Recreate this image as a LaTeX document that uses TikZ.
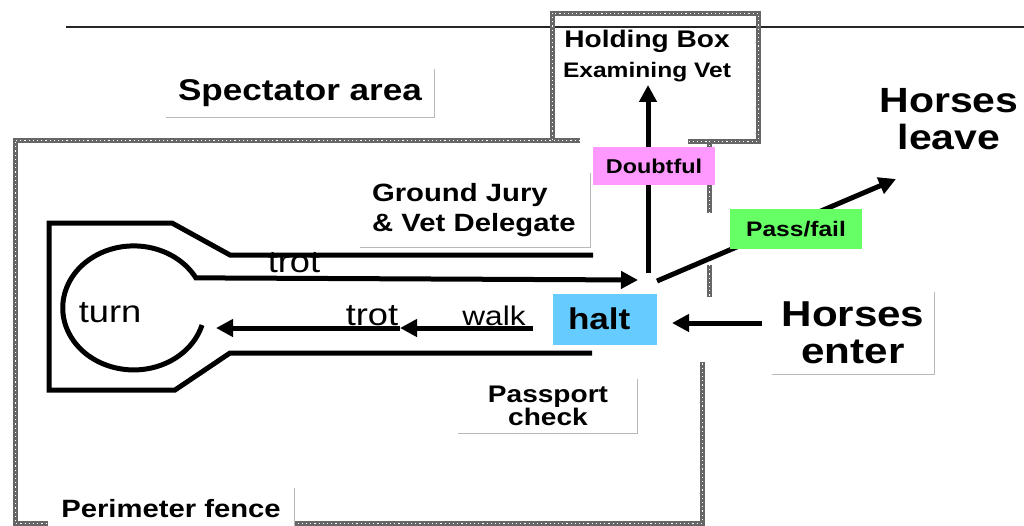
\documentclass[tikz,border=0pt]{standalone}
\usepackage{fontspec}
\setmainfont{Liberation Sans}[FakeStretch=1.17]
\usetikzlibrary{arrows.meta,positioning}
\definecolor{haltblue}{RGB}{102,204,255}
\definecolor{doubtpink}{RGB}{255,153,255}
\definecolor{passgreen}{RGB}{102,255,102}
\newcommand{\bsz}[2]{\fontsize{#1}{#2}\selectfont\bfseries}
\newcommand{\rsz}[1]{\fontsize{#1}{#1}\selectfont}

\begin{document}
\begin{tikzpicture}[x=1pt,y=-1pt,
  track/.style={line width=5pt},
  arr/.style={line width=5pt,-{Triangle[length=17pt,width=17pt]}},
  fence/.style={draw=gray!80!black,line width=5pt,
    postaction={draw=white,line width=1pt,dash pattern=on 1.2pt off 3pt}},
  rim/.style={draw=gray!55,line width=1.2pt},
  tbox/.style={inner sep=0pt,align=center},
  tag/.style={inner sep=0pt,minimum height=38pt}]
  \useasboundingbox (0,0) rectangle (1024,525);

  \draw[gray!30!black,line width=1.6pt] (66,27) -- (1024,27);

  \draw[fence] (580,140) -- (15,140) -- (15,523) -- (702,523) -- (702,362);
  \draw[fence] (552,140) -- (552,13) -- (758,13) -- (758,141) -- (688,141);
  \draw[fence] (709,141) -- (709,213);
  \draw[fence] (709,265) -- (709,297);

  \draw[track] (593,255) -- (230,255) -- (172,223) -- (49,223) -- (49,390)
    -- (175,390) -- (230,353) -- (592,353);

  \node (hold) [anchor=base,font=\bsz{24}{24}] at (647,47) {Holding Box};
  \node (vet) [anchor=base,font=\bsz{21}{21}] at (647,77) {Examining Vet};

  \coordinate (loopin) at (202,325);
  \coordinate (jct) at (638,280);
  \coordinate (fork) at (648,273);
  \coordinate (passin) at (657,281);
  \coordinate (leavept) at (896,179);
  \coordinate (walkin) at (533,328);
  \coordinate (trotpt) at (400,328);
  \coordinate (turnpt) at (216,328);
  \coordinate (enterpt) at (762,323);
  \coordinate (haltpt) at (672,323);

  \draw[arr] (loopin) arc[start angle=16,end angle=331,x radius=71,y radius=62] -- (jct);
  \draw[arr] (walkin) -- (trotpt);
  \draw[arr] (trotpt) -- (turnpt);
  \draw[arr] (fork) -- (fork |- vet.south);
  \draw[arr] (passin) -- (leavept);
  \draw[arr] (enterpt) -- (haltpt);

  \node (spec) [tbox,font=\bsz{30}{30},minimum width=268pt,minimum height=48pt] at (300,93) {Spectator area};
  \draw[rim] (spec.south west) -- (spec.south east) -- (spec.north east);

  \node (jury) [tbox,font=\bsz{25}{30},align=left,text width=206pt,inner xsep=12pt,minimum height=74pt] at (475,210) {Ground Jury\\\& Vet Delegate};
  \draw[rim] (jury.south west) -- (jury.south east) -- (jury.north east);

  \node (pass) [tbox,font=\bsz{24}{22},minimum width=179pt,minimum height=54pt] at (548,406) {Passport\\check};
  \draw[rim] (pass.south west) -- (pass.south east) -- (pass.north east);

  \node (enter) [tbox,font=\bsz{36}{37},minimum width=162pt,minimum height=82pt] at (853,333) {Horses\\enter};
  \draw[rim] (enter.south west) -- (enter.south east) -- (enter.north east);

  \node (leave) [tbox,font=\bsz{35}{37}] at (949,119) {Horses\\leave};

  \node (fence) [tbox,font=\bsz{25}{25},fill=white,minimum width=247pt,minimum height=42pt] at (171,509) {Perimeter fence};
  \draw[rim] (fence.north east) -- (fence.south east);

  \node (doubt) [tag,font=\bsz{20}{20},fill=doubtpink,minimum width=122pt] at (654,166) {Doubtful};
  \node (pf) [tag,font=\bsz{21}{21},fill=passgreen,minimum width=132pt,minimum height=40pt] at (796,229) {Pass/fail};
  \node (halt) [tag,font=\bsz{30}{30},fill=haltblue,text width=74pt,align=left,inner xsep=15pt,minimum height=51pt] at (605,319) {halt};

  \node (trotup) [anchor=base,font=\rsz{31}] at (294,272) {trot};
  \node (trotdn) [anchor=base,font=\rsz{31}] at (372,325) {trot};
  \node (walk) [anchor=base,font=\rsz{27}] at (494,325) {walk};
  \node (turn) [anchor=base,font=\rsz{31}] at (110,322) {turn};
\end{tikzpicture}
\end{document}
